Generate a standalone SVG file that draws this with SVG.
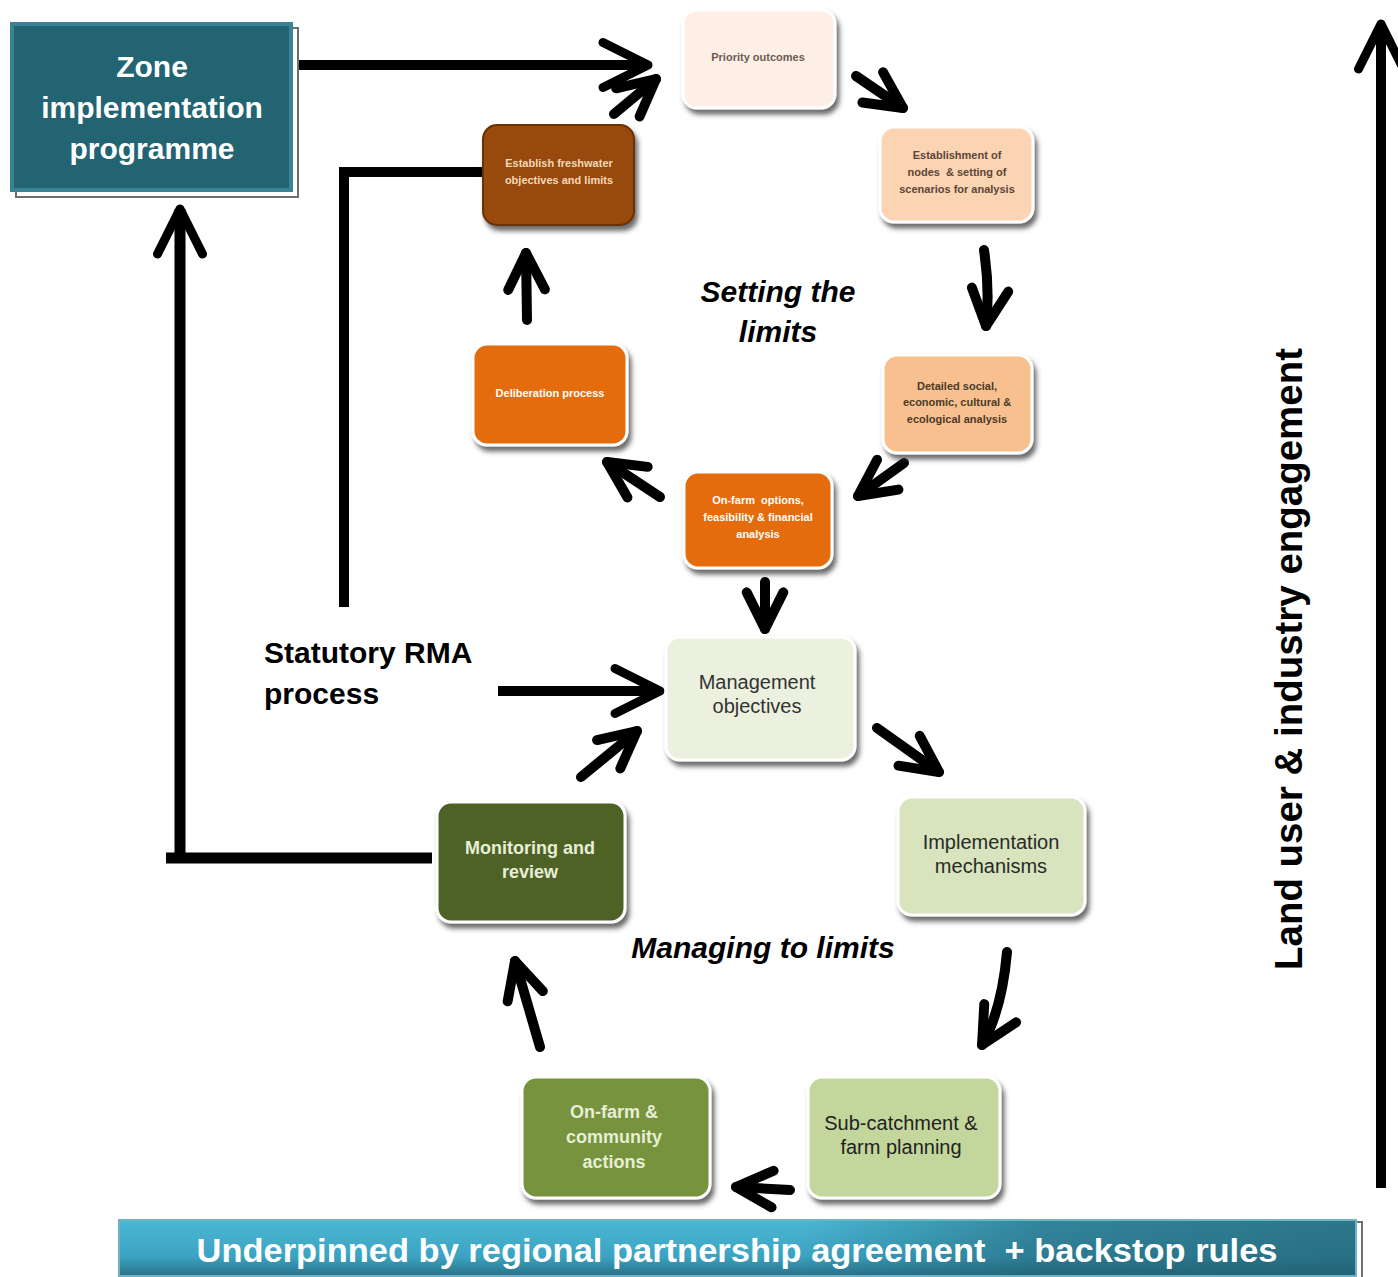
<svg xmlns="http://www.w3.org/2000/svg" width="1398" height="1277" viewBox="0 0 1398 1277">
<defs>
<style>
.t{font-family:"Liberation Sans",Arial,sans-serif;text-anchor:middle}
.b{font-weight:bold}
.s{font-size:11px;font-weight:bold}
.m{font-size:20px}
.g{font-size:18px;font-weight:bold}
.lab{font-family:"Liberation Sans",Arial,sans-serif;font-weight:bold;fill:#000}
.node{stroke:#ffffff;stroke-width:3;filter:url(#sh)}
.ln{fill:none;stroke:#000;stroke-linecap:butt;stroke-linejoin:miter}
.ar{fill:none;stroke:#000;stroke-width:10;stroke-linecap:round;stroke-linejoin:round}
.bt{stroke-linecap:butt}
</style>
<filter id="sh" x="-10%" y="-10%" width="125%" height="130%">
<feDropShadow dx="3" dy="5" stdDeviation="2.5" flood-color="#3a3a3a" flood-opacity="0.75"/>
</filter>
<marker id="big" viewBox="0 0 12 12" refX="11" refY="6" markerUnits="userSpaceOnUse" markerWidth="54" markerHeight="54" orient="auto" style="overflow:visible">
<path d="M1,1 L11,6 L1,11" fill="none" stroke="#000" stroke-width="2" stroke-linecap="round" stroke-linejoin="round"/>
</marker>
<marker id="sm" viewBox="0 0 12 12" refX="11" refY="6" markerUnits="userSpaceOnUse" markerWidth="44" markerHeight="44" orient="auto" style="overflow:visible">
<path d="M1,1 L11,6 L1,11" fill="none" stroke="#000" stroke-width="2.7" stroke-linecap="round" stroke-linejoin="round"/>
</marker>
<linearGradient id="ban" x1="0" y1="0" x2="0" y2="1">
<stop offset="0" stop-color="#4cb8d4"/>
<stop offset="0.65" stop-color="#3ba3c1"/>
<stop offset="1" stop-color="#286f86"/>
</linearGradient>
<linearGradient id="banR" x1="0" y1="0" x2="1" y2="0">
<stop offset="0" stop-color="#1f5a6b" stop-opacity="0"/>
<stop offset="0.55" stop-color="#1f5a6b" stop-opacity="0"/>
<stop offset="0.75" stop-color="#1f5a6b" stop-opacity="0.55"/>
<stop offset="1" stop-color="#1f5a6b" stop-opacity="0.7"/>
</linearGradient>
</defs>
<rect width="1398" height="1277" fill="#ffffff"/>

<g id="connectors">
<line class="ar bt" x1="291" y1="65" x2="648" y2="65" marker-end="url(#big)"/>
<path class="ar" d="M614,114 L656,79" marker-end="url(#sm)"/>
<path class="ar" d="M856,76 L903,108" marker-end="url(#sm)"/>
<path class="ar" d="M984,250 Q990,290 986,326" marker-end="url(#sm)"/>
<path class="ar" d="M904,463 L858,496" marker-end="url(#sm)"/>
<path class="ar" d="M660,497 L607,462" marker-end="url(#sm)"/>
<path class="ar" d="M527,320 L526,253" marker-end="url(#sm)"/>
<path class="ar" d="M765,582 L765,629" marker-end="url(#sm)"/>
<path class="ar" d="M877,728 L939,772" marker-end="url(#sm)"/>
<path class="ar" d="M1007,952 Q1002,1010 982,1045" marker-end="url(#sm)"/>
<path class="ar" d="M790,1190 L736,1187" marker-end="url(#sm)"/>
<path class="ar" d="M540,1047 L515,961" marker-end="url(#sm)"/>
<path class="ar" d="M581,777 L637,731" marker-end="url(#sm)"/>
<line class="ar bt" x1="498" y1="691" x2="660" y2="691" marker-end="url(#big)"/>
<path class="ln" d="M484,172 H344 V607" stroke-width="10"/>
<path class="ln" d="M432,858 H166" stroke-width="11"/>
<line class="ar bt" x1="180" y1="853" x2="180" y2="209" style="stroke-width:11" marker-end="url(#big)"/>
<line class="ar bt" x1="1381" y1="1188" x2="1381" y2="24" marker-end="url(#big)"/>
</g>

<g id="zone">
<rect x="16" y="28" width="282" height="169" fill="#ffffff" stroke="#6e6e6e" stroke-width="2"/>
<rect x="10" y="22" width="283" height="170" fill="#3a8394"/>
<rect x="14" y="26" width="275" height="162" fill="#236473"/>
<text class="t b" x="152" y="77" font-size="30" fill="#ffffff">Zone</text>
<text class="t b" x="152" y="118" font-size="30" fill="#ffffff">implementation</text>
<text class="t b" x="152" y="159" font-size="30" fill="#ffffff">programme</text>
</g>

<g id="priority">
<rect class="node" x="683" y="10" width="152" height="98" rx="14" fill="#fdefe6"/>
<text class="t s" x="758" y="61" fill="#6b5a50">Priority outcomes</text>
</g>

<g id="establishment">
<rect class="node" x="880" y="127" width="153" height="95" rx="14" fill="#fbd4b4"/>
<text class="t s" x="957" y="159" fill="#5b4636">Establishment of</text>
<text class="t s" x="957" y="176" fill="#5b4636" xml:space="preserve">nodes  &amp; setting of</text>
<text class="t s" x="957" y="193" fill="#5b4636">scenarios for analysis</text>
</g>

<g id="detailed">
<rect class="node" x="883" y="355" width="149" height="98" rx="14" fill="#f9c08f"/>
<text class="t s" x="957" y="390" fill="#4a3a2a">Detailed social,</text>
<text class="t s" x="957" y="406" fill="#4a3a2a">economic, cultural &amp;</text>
<text class="t s" x="957" y="423" fill="#4a3a2a">ecological analysis</text>
</g>

<g id="onfarm-options">
<rect class="node" x="684" y="472" width="148" height="96" rx="14" fill="#e46c0a"/>
<text class="t s" x="758" y="504" fill="#ffffff" xml:space="preserve">On-farm  options,</text>
<text class="t s" x="758" y="521" fill="#ffffff">feasibility &amp; financial</text>
<text class="t s" x="758" y="538" fill="#ffffff">analysis</text>
</g>

<g id="deliberation">
<rect class="node" x="473" y="344" width="154" height="101" rx="14" fill="#e46c0a"/>
<text class="t s" x="550" y="397" fill="#ffffff">Deliberation process</text>
</g>

<g id="freshwater">
<rect class="node" x="483" y="125" width="151" height="100" rx="14" fill="#984807" style="stroke:#6a3000;stroke-width:2"/>
<text class="t s" x="559" y="167" fill="#f3d9b8">Establish freshwater</text>
<text class="t s" x="559" y="184" fill="#f3d9b8">objectives and limits</text>
</g>

<g id="management">
<rect class="node" x="666" y="637" width="189" height="123" rx="14" fill="#ebf1de"/>
<text class="t m" x="757" y="689" fill="#333333">Management</text>
<text class="t m" x="757" y="713" fill="#333333">objectives</text>
</g>

<g id="implementation">
<rect class="node" x="898" y="797" width="187" height="118" rx="14" fill="#d7e4bd"/>
<text class="t m" x="991" y="849" fill="#2a2a2a">Implementation</text>
<text class="t m" x="991" y="873" fill="#2a2a2a">mechanisms</text>
</g>

<g id="subcatchment">
<rect class="node" x="808" y="1077" width="192" height="121" rx="14" fill="#c3d69b"/>
<text class="t m" x="901" y="1130" fill="#222222">Sub-catchment &amp;</text>
<text class="t m" x="901" y="1154" fill="#222222">farm planning</text>
</g>

<g id="community">
<rect class="node" x="522" y="1077" width="188" height="121" rx="14" fill="#77933c"/>
<text class="t g" x="614" y="1118" fill="#e6eed6">On-farm &amp;</text>
<text class="t g" x="614" y="1143" fill="#e6eed6">community</text>
<text class="t g" x="614" y="1168" fill="#e6eed6">actions</text>
</g>

<g id="monitoring">
<rect class="node" x="437" y="802" width="188" height="120" rx="14" fill="#4f6228"/>
<text class="t g" x="530" y="854" fill="#e6eed6">Monitoring and</text>
<text class="t g" x="530" y="878" fill="#e6eed6">review</text>
</g>

<g id="labels">
<text class="lab" x="264" y="663" font-size="30">Statutory RMA</text>
<text class="lab" x="264" y="704" font-size="30">process</text>
<text class="lab" x="778" y="302" font-size="30" font-style="italic" text-anchor="middle">Setting the</text>
<text class="lab" x="778" y="342" font-size="30" font-style="italic" text-anchor="middle">limits</text>
<text class="lab" x="763" y="958" font-size="30" font-style="italic" text-anchor="middle">Managing to limits</text>
<text class="lab" transform="translate(1302,659) rotate(-90)" font-size="38" text-anchor="middle" textLength="622" lengthAdjust="spacingAndGlyphs">Land user &amp; industry engagement</text>
</g>

<g id="banner">
<rect x="121" y="1222" width="1241" height="58" fill="#ffffff" stroke="#707070" stroke-width="2"/>
<rect x="118" y="1219" width="1239" height="58" fill="url(#ban)"/>
<rect x="118" y="1219" width="1239" height="58" fill="url(#banR)"/>
<rect x="119" y="1220" width="1237" height="56" fill="none" stroke="#6fb3c6" stroke-width="2"/>
<text class="t b" x="737" y="1262" font-size="33" fill="#ffffff" textLength="1081" lengthAdjust="spacingAndGlyphs" xml:space="preserve">Underpinned by regional partnership agreement  + backstop rules</text>
</g>
</svg>
